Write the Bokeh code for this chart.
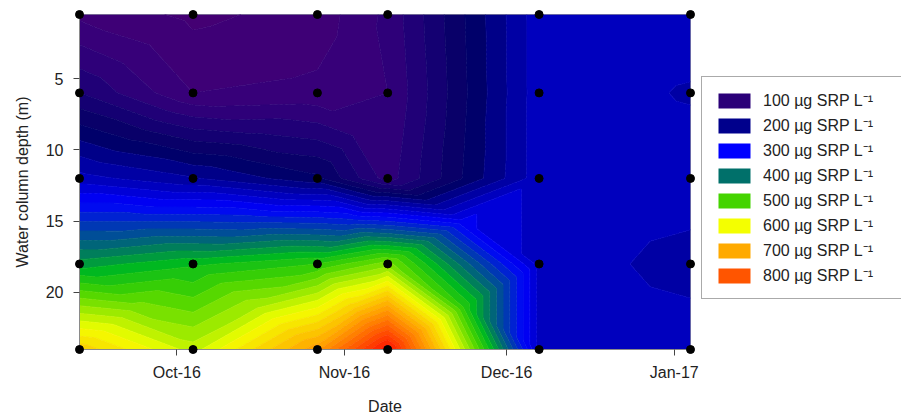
import numpy as np
from bokeh.plotting import figure
from bokeh.models import Range1d, FixedTicker, DatetimeTickFormatter, Legend, LegendItem
from bokeh.embed import file_html
from bokeh.resources import INLINE

# ---------------- data ----------------
dates = ["2016-09-13", "2016-10-04", "2016-10-27", "2016-11-09", "2016-12-07", "2017-01-04"]
depths = [0.5, 6, 12, 18, 24]
srp_0_5m = [75, 55, 68, 105, 252, 252]
srp_6m = [140, 80, 85, 100, 252, 238]
srp_12m = [248, 222, 185, 110, 252, 252]
srp_18m = [430, 455, 480, 530, 252, 232]
srp_24m = [655, 570, 715, 880, 252, 252]

legend_levels = [100, 200, 300, 400, 500, 600, 700, 800]
legend_colors = ["#2a0078", "#00008c", "#0000ff", "#00706a", "#44d400", "#f4ff00", "#ffaa00", "#ff5500"]
x_tick_dates = ["2016-10-01", "2016-11-01", "2016-12-01", "2017-01-01"]
y_ticks = [5, 10, 15, 20]

# colour ramp anchors (value -> colour)
ramp_values = [0, 100, 140, 185, 215, 300, 400, 450, 500, 600, 700, 800, 900]
ramp_colors = ["#54006c", "#34007a", "#1a0076", "#000062", "#000090", "#0000ff", "#00706a",
               "#00b820", "#44d400", "#f4ff00", "#ffaa00", "#ff5500", "#ff0000"]
contour_step = 20

FONT = "Liberation Sans"


def to_ms(d):
    return float((np.datetime64(d, "ms") - np.datetime64("1970-01-01", "ms")) / np.timedelta64(1, "ms"))


def hex_rgb(h):
    return [int(h[i:i + 2], 16) for i in (1, 3, 5)]


def ramp(v):
    rgb = [np.interp(v, ramp_values, [hex_rgb(c)[k] for c in ramp_colors]) for k in range(3)]
    return "#%02x%02x%02x" % tuple(int(round(c)) for c in rgb)


xs = np.array([to_ms(d) for d in dates])
ys = np.array(depths, dtype=float)
Z = np.array([srp_0_5m, srp_6m, srp_12m, srp_18m, srp_24m], dtype=float)

# fine grid, linear interpolation on 4 triangles per cell (centre = mean of corners)
fx = np.linspace(xs[0], xs[-1], 500)
fy = np.linspace(ys[0], ys[-1], 260)
FX, FY = np.meshgrid(fx, fy)
i = np.clip(np.searchsorted(xs, FX, side="right") - 1, 0, len(xs) - 2)
j = np.clip(np.searchsorted(ys, FY, side="right") - 1, 0, len(ys) - 2)
u = (FX - xs[i]) / (xs[i + 1] - xs[i])
v = (FY - ys[j]) / (ys[j + 1] - ys[j])
z00 = Z[j, i]
z10 = Z[j, i + 1]
z01 = Z[j + 1, i]
z11 = Z[j + 1, i + 1]
zc = (z00 + z10 + z01 + z11) / 4.0
bottom = (v <= u) & (v <= 1 - u)
right = (u >= v) & (u >= 1 - v) & ~bottom
top = (v >= u) & (v >= 1 - u) & ~bottom & ~right
left = ~(bottom | right | top)
FZ = np.zeros_like(FX)
FZ = np.where(bottom, (1 - u - v) * z00 + (u - v) * z10 + 2 * v * zc, FZ)
FZ = np.where(right, (u - v) * z10 + (u + v - 1) * z11 + 2 * (1 - u) * zc, FZ)
FZ = np.where(top, (v - u) * z01 + (u + v - 1) * z11 + 2 * (1 - v) * zc, FZ)
FZ = np.where(left, (1 - u - v) * z00 + (v - u) * z01 + 2 * u * zc, FZ)

levels = list(np.arange(0, 900 + contour_step, contour_step).astype(float))
band_colors = [ramp((levels[k] + levels[k + 1]) / 2) for k in range(len(levels) - 1)]
line_colors = [band_colors[min(k, len(band_colors) - 1)] for k in range(len(levels))]

# ---------------- figure ----------------
p = figure(frame_width=611, frame_height=335, output_backend="svg", toolbar_location=None,
           x_axis_type="datetime",
           x_range=Range1d(xs[0], xs[-1]), y_range=Range1d(ys[-1], ys[0]),
           min_border_left=79, min_border_top=14, min_border_right=0, min_border_bottom=64)
p.xgrid.visible = False
p.ygrid.visible = False
p.outline_line_color = "#8a8aa0"
p.background_fill_color = "white"

p.contour(FX, FY, FZ, levels, fill_color=band_colors, line_color=line_colors, line_width=1)

PX, PY = np.meshgrid(xs, ys)
p.scatter(PX.ravel(), PY.ravel(), size=8, color="black", level="overlay")

# axes
p.xaxis.ticker = FixedTicker(ticks=[to_ms(d) for d in x_tick_dates])
p.xaxis.formatter = DatetimeTickFormatter(days="%b-%y", months="%b-%y", years="%b-%y")
p.yaxis.ticker = FixedTicker(ticks=y_ticks)
p.xaxis.axis_label = "Date"
p.yaxis.axis_label = "Water column depth (m)"
for ax in (p.xaxis[0], p.yaxis[0]):
    ax.axis_line_color = "#8a8a8a"
    ax.major_tick_line_color = "#444444"
    ax.minor_tick_line_color = None
    ax.major_tick_in = 0
    ax.major_tick_out = 6
    ax.major_label_text_font = FONT
    ax.major_label_text_font_size = "16px"
    ax.major_label_text_color = "#222222"
    ax.axis_label_text_font = FONT
    ax.axis_label_text_font_size = "16px"
    ax.axis_label_text_font_style = "normal"
    ax.axis_label_text_color = "#222222"
p.xaxis.major_label_standoff = 8
p.xaxis.axis_label_standoff = 14
p.yaxis.major_label_standoff = 10
p.yaxis.axis_label_standoff = 12

# legend (zero-size proxies at the first sample point carry the swatch colours)
items = []
for lv, c in zip(legend_levels, legend_colors):
    r = p.quad(left=[xs[0]], right=[xs[0]], top=[ys[0]], bottom=[ys[0]],
               fill_color=c, line_color=None)
    items.append(LegendItem(label=f"{lv} \u00b5g SRP L\u207b\u00b9", renderers=[r]))
legend = Legend(items=items, location=(11, 50), glyph_width=40, glyph_height=19,
                label_height=19, label_width=133, spacing=3, padding=12, label_standoff=9,
                margin=0, label_text_font=FONT, label_text_font_size="16px",
                label_text_color="#222222",
                border_line_color="#555555", border_line_width=1,
                background_fill_color="white", background_fill_alpha=1.0)
p.add_layout(legend, "right")

open("out.html", "w").write(file_html(p, INLINE))
